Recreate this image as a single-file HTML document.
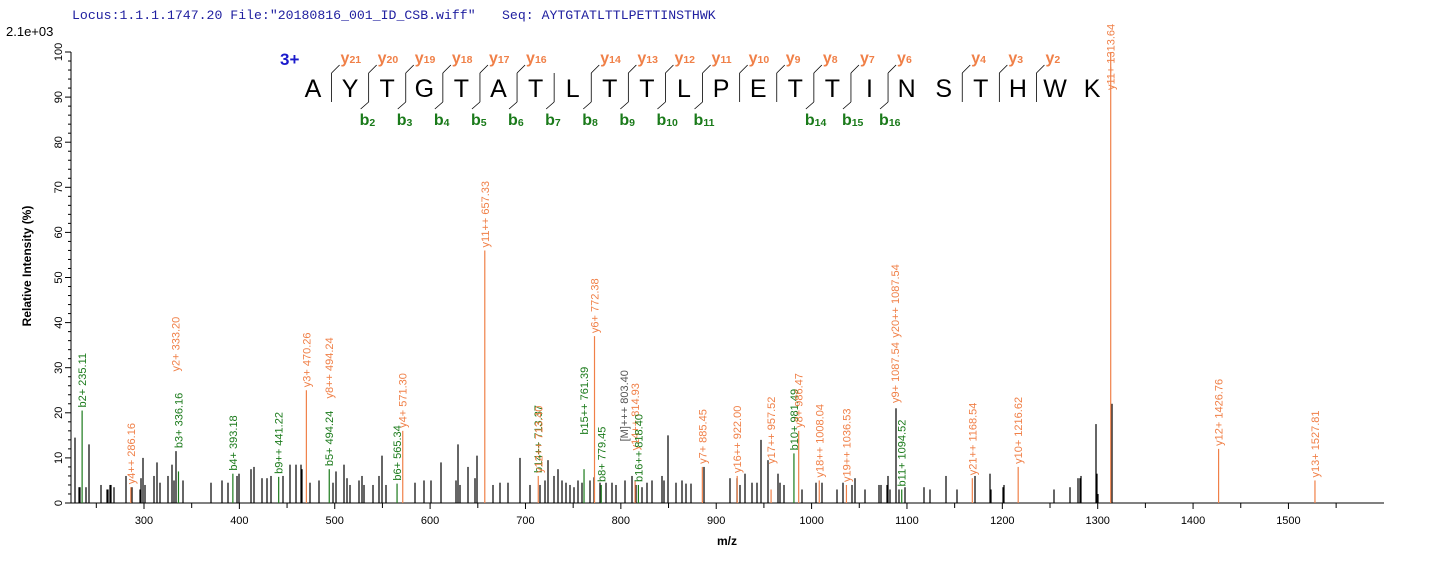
<!DOCTYPE html>
<html><head><meta charset="utf-8"><style>
html,body{margin:0;padding:0;background:#fff;width:1436px;height:562px;overflow:hidden}
svg{display:block}
text{font-family:"Liberation Sans",Arial,sans-serif}
</style></head><body>
<svg id="s" width="1436" height="562" xmlns="http://www.w3.org/2000/svg">
<text x="72" y="19" font-size="13.2" fill="#2020a0" style="font-family:'Liberation Mono',monospace">Locus:1.1.1.1747.20 File:"20180816_001_ID_CSB.wiff"</text>
<text x="502" y="19" font-size="13.2" fill="#2020a0" style="font-family:'Liberation Mono',monospace">Seq: AYTGTATLTTLPETTINSTHWK</text>
<text x="6" y="36" font-size="13" fill="#000">2.1e+03</text>
<text x="280" y="65" font-size="17" font-weight="bold" fill="#1a1acc">3+</text>
<text transform="translate(31,266) rotate(-90)" text-anchor="middle" font-size="12" font-weight="bold">Relative   Intensity (%)</text>
<text x="727" y="545" text-anchor="middle" font-size="12" font-weight="bold">m/z</text>
<g id="g"></g>
</svg>
<script>
var g=document.getElementById('g'),h='';
function px(m){return 144+(m-300)*0.9537}
function py(i){return 503-i*4.51}
h+='<line x1="71" y1="52" x2="71" y2="503" stroke="#000"/>';
h+='<line x1="71" y1="503" x2="1384" y2="503" stroke="#000"/>';
for(var i=0;i<=100;i+=2){var y=py(i);var L=(i%10==0)?6:3;h+='<line x1="'+(71-L)+'" y1="'+y+'" x2="71" y2="'+y+'" stroke="#000"/>';
 if(i%10==0)h+='<text transform="translate(62,'+y+') rotate(-90)" text-anchor="middle" font-size="11">'+i+'</text>';}
for(var m=250;m<=1580;m+=50){var x=px(m);var L=m%100==0?6:5;h+='<line x1="'+x+'" y1="503" x2="'+x+'" y2="'+(503+L)+'" stroke="#000"/>';
 if(m%100==0)h+='<text x="'+x+'" y="524" text-anchor="middle" font-size="11">'+m+'</text>';}
var B=[[75,14.5],[79,3.5],[80,3.5],[86,3.5],[89,13],[101,4],[107,3],[108,3],[110,4],[111,4],[114,3.5],[126,6],[132,3.5],[140,3],[141,5.5],[143,10],[145,4],[154,6],[157,9],[160,4.5],[168,6],[172,8.5],[174,5],[176,11.5],[183,5],[211,4.5],[222,5],[228,4.5],[237,6],[239,6.5],[251,7.5],[254,8],[262,5.5],[267,5.5],[271,6],[283,6],[290,8.5],[296,8.5],[301,8.5],[302,7.5],[310,4.5],[319,5],[333,4.5],[336,7],[344,8.5],[347,5.5],[350,4],[359,5],[362,6],[364,4],[373,4],[379,6],[382,10.5],[386,4],[415,4.5],[424,5],[431,5],[441,9],[456,5],[458,13],[460,4],[468,8],[475,5.5],[477,10.5],[493,4],[500,4.5],[508,4.5],[520,10],[530,4],[540,4],[545,5],[548,9.5],[554,6],[558,7.5],[562,5],[566,4.5],[570,4],[574,3.5],[578,5],[582,4.5],[590,5],[594,5.7],[600,4.5],[606,4.5],[612,4.5],[616,4],[625,5],[632,6],[636,4],[642,3.5],[647,4.5],[652,5],[662,6],[664,5],[668,15],[676,4.5],[682,5],[686,4.3],[691,4.3],[704,8],[730,5.5],[737,5.5],[740,4],[745,6.5],[752,4.5],[757,4.5],[761,14],[768,9.5],[778,6.5],[780,4.5],[784,4],[802,3],[816,4.5],[822,4.5],[837,3],[843,4.5],[852,4],[855,5.5],[865,3],[879,4],[881,4],[887,4],[888,6],[890,3],[896,21],[899,3],[905,3.5],[924,3.5],[930,3],[946,6],[957,3],[975,6],[990,6.5],[991,3],[1003,3.5],[1004,4],[1054,3],[1070,3.5],[1078,5.5],[1080,5.5],[1081,6],[1096,17.5],[1097,6.5],[1098,2],[1112,22]];
B.forEach(function(p){h+='<line x1="'+p[0]+'" y1="'+py(p[1])+'" x2="'+p[0]+'" y2="503" stroke="#000" stroke-width="1.2"/>';});
var O='#f08048',G='#1a7a1a';
var A=[[235.11,20.5,'b2+ 235.11',G],[286.16,3.5,'y4++ 286.16',O],[333.20,0,'y2+ 333.20',O,28.5],[336.16,7,'b3+ 336.16',G,11.5],
[393.18,6.5,'b4+ 393.18',G],[441.22,5.8,'b9++ 441.22',G],[470.26,25,'y3+ 470.26',O],[494.24,0,'y8++ 494.24',O,22.5],[494.24,7.5,'b5+ 494.24',G],
[565.34,4.3,'b6+ 565.34',G],[571.30,16,'y4+ 571.30',O],[657.33,56,'y11++ 657.33',O],[713.37,0,'b14++ 713.37',G,6],[713.40,6,'y12++ 713.40',O],
[761.39,7.5,'b15++ 761.39',G,14.5],[772.38,37,'y6+ 772.38',O],[779.45,4,'b8+ 779.45',G],[803.40,0,'[M]+++ 803.40',"#555",13],[814.93,5,'y14++ 814.93',O,11],[818.40,4,'b16++ 818.40',G],
[885.45,8,'y7+ 885.45',O],[922.00,6,'y16++ 922.00',O],[957.52,3,'y17++ 957.52',O,8],[981.49,11,'b10+ 981.49',G],[986.47,16,'y8+ 986.47',O],
[1008.04,5,'y18++ 1008.04',O],[1036.53,4,'y19++ 1036.53',O],[1087.54,0,'y9+ 1087.54',O,21.5],[1087.54,0,'y20++ 1087.54',O,36],[1094.52,3,'b11+ 1094.52',G],
[1168.54,5.5,'y21++ 1168.54',O],[1216.62,8,'y10+ 1216.62',O],[1313.64,100,'y11+ 1313.64',O],[1426.76,12,'y12+ 1426.76',O],[1527.81,5,'y13+ 1527.81',O]];
A.forEach(function(a){var x=px(a[0]);if(a[1]>0)h+='<line x1="'+x+'" y1="'+py(a[1])+'" x2="'+x+'" y2="503" stroke="'+a[3]+'" stroke-width="1.2"/>';
 var lb=a.length>4?a[4]:a[1];var y=py(lb)-3;if(a[2]=='y11+ 1313.64')y=90;
 h+='<text transform="translate('+(x+4)+','+y+') rotate(-90)" font-size="11" fill="'+a[3]+'">'+a[2]+'</text>';});
var seq='AYTGTATLTTLPETTINSTHWK';var x0=313,st=37.1;
for(var k=0;k<seq.length;k++)h+='<text x="'+(x0+k*st)+'" y="97" text-anchor="middle" font-size="25">'+seq[k]+'</text>';
var yl={1:21,2:20,3:19,4:18,5:17,6:16,8:14,9:13,10:12,11:11,12:10,13:9,14:8,15:7,16:6,18:4,19:3,20:2};
var bl={2:2,3:3,4:4,5:5,6:6,7:7,8:8,9:9,10:10,11:11,14:14,15:15,16:16};
for(var b=1;b<=21;b++){if(!(b in yl)&&!(b in bl))continue;var x=x0+(b-0.5)*st;
 h+='<line x1="'+x+'" y1="73" x2="'+x+'" y2="102" stroke="#000" stroke-width="0.8"/>';
 if(b in yl){h+='<line x1="'+x+'" y1="73" x2="'+(x+8)+'" y2="65" stroke="#000" stroke-width="0.8"/>';
  h+='<text x="'+(x+9)+'" y="63" font-size="16" font-weight="bold" fill="'+O+'">y<tspan font-size="10.5" dy="0">'+yl[b]+'</tspan></text>';}
 if(b in bl){h+='<line x1="'+x+'" y1="102" x2="'+(x-8)+'" y2="109" stroke="#000" stroke-width="0.8"/>';
  h+='<text x="'+(x-9)+'" y="125" font-size="16" font-weight="bold" fill="'+G+'">b<tspan font-size="10.5" dy="1">'+bl[b]+'</tspan></text>';}}
g.innerHTML=h;
</script>
</body></html>
